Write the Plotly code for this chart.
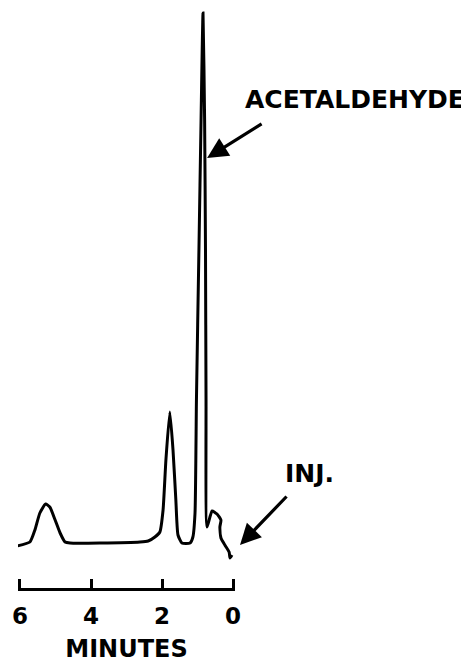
import plotly.graph_objects as go

# Chromatogram trace: retention time (minutes) and detector signal (arbitrary units)
time_min = [6.08, 5.72, 5.58, 5.44, 5.28, 5.16, 5.01, 4.87, 4.73, 4.59, 3.75, 2.62, 2.39, 2.20, 2.06,
            1.97, 1.89, 1.78, 1.69, 1.61, 1.55, 1.44, 1.21, 1.13, 1.07, 1.03, 0.96, 0.90, 0.845,
            0.80, 0.775, 0.76, 0.73, 0.59, 0.45, 0.34, 0.37, 0.34, 0.23, 0.11, 0.085, 0.03]
signal = [-3, 1, 13, 30, 39, 36, 23, 10, 1, 0, 0, 1, 2, 6, 11,
          33, 83, 131, 93, 43, 8, 0, 0, 6, 30, 143, 293, 423, 530,
          423, 293, 143, 16, 32, 29, 23, 16, 5, -2, -9, -15, -12]

tick_vals = [6, 4, 2, 0]
tick_text = ["6", "4", "2", "0"]
axis_title = "MINUTES"
peak_label = "ACETALDEHYDE"
peak_time, peak_signal = 0.73, 385
inj_label = "INJ."

# page has an 8px body margin; figure is laid out relative to that
OFF = 8
W, H = 461, 669
PLOT_L, PLOT_R, PLOT_T, PLOT_B = 18, 235, 8, 588   # page pixels
ML, MR, MT, MB = PLOT_L - OFF, OFF + W - PLOT_R, PLOT_T - OFF, OFF + H - PLOT_B
PW, PH = PLOT_R - PLOT_L, PLOT_B - PLOT_T

def px(xp):
    return (xp - PLOT_L) / PW

def py(yp):
    return (PLOT_B - yp) / PH

FONT = "DejaVu Sans"

fig = go.Figure()
fig.add_trace(go.Scatter(x=time_min, y=signal, mode="lines",
                         line=dict(color="black", width=3, shape="spline", smoothing=0.5),
                         hoverinfo="skip", showlegend=False))

fig.update_layout(
    width=W, height=H,
    margin=dict(l=ML, r=MR, t=MT, b=MB, pad=0),
    paper_bgcolor="white", plot_bgcolor="white",
    font=dict(family=FONT, color="black"),
    xaxis=dict(range=[6.056, -0.056], tickvals=tick_vals, ticktext=tick_text,
               ticks="inside", ticklen=9, tickwidth=3, tickcolor="black",
               showline=True, linewidth=3, linecolor="black", showgrid=False,
               zeroline=False, tickfont=dict(size=23, family=FONT, weight="bold"),
               ticklabelstandoff=5,
               title=dict(text=axis_title, font=dict(size=24, family=FONT, weight="bold"),
                          standoff=13),
               automargin=False, fixedrange=True),
    yaxis=dict(range=[-45, 535], visible=False, fixedrange=True),
    annotations=[
        dict(x=px(243), y=py(99), xref="paper", yref="paper", text=peak_label,
             showarrow=False, xanchor="left", yanchor="middle",
             font=dict(size=25, family=FONT, weight="bold")),
        dict(x=peak_time, y=peak_signal, xref="x", yref="y", text="",
             showarrow=True, ax=56, ay=-35, arrowhead=2, arrowsize=1.3,
             arrowwidth=3.2, arrowcolor="black", standoff=0, startstandoff=0),
        dict(x=px(283), y=py(474), xref="paper", yref="paper", text=inj_label,
             showarrow=False, xanchor="left", yanchor="middle",
             font=dict(size=25, family=FONT, weight="bold")),
        dict(x=px(240), y=py(545), xref="paper", yref="paper", text="",
             showarrow=True, ax=48, ay=-50, arrowhead=2, arrowsize=1.3,
             arrowwidth=3.2, arrowcolor="black", standoff=0, startstandoff=0),
    ],
)

fig.write_html("out.html")
